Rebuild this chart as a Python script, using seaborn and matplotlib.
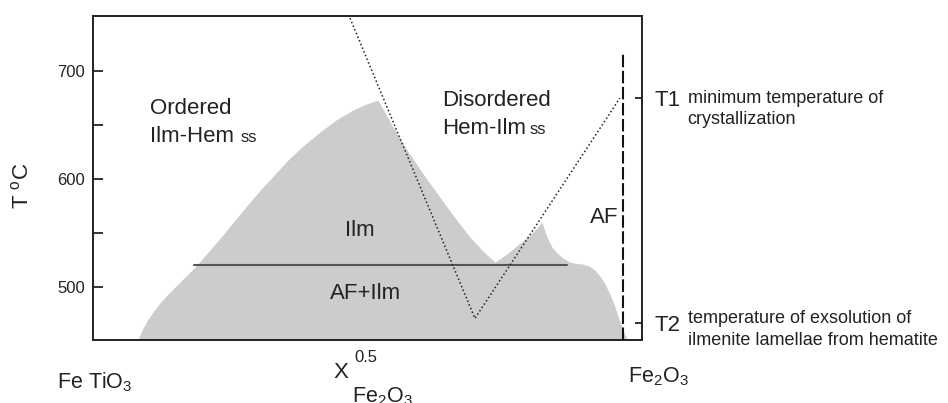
import numpy as np
import pandas as pd
import matplotlib.pyplot as plt
import seaborn as sns

# phase diagram data (x = mole fraction Fe2O3, T in deg C)
# upper edge of the grey (ordered / two-phase) field, left to right
fill_x = [0.0564, 0.0642, 0.0739, 0.0856, 0.0992, 0.1148, 0.1323, 0.1498, 0.1693,
          0.1946, 0.2198, 0.2471, 0.2743, 0.2996, 0.3249, 0.3502, 0.3774, 0.4105,
          0.4416, 0.4747, 0.5000, 0.5233,
          0.5506, 0.5798, 0.6128, 0.6479, 0.6751, 0.7023, 0.7276, 0.7510,
          0.7763, 0.7996, 0.8191, 0.8327, 0.8424, 0.8463, 0.8521, 0.8619, 0.8716,
          0.8833, 0.8969, 0.9105, 0.9222, 0.9339, 0.9455, 0.9553, 0.9650, 0.9747,
          0.9825, 0.9903, 0.9981, 1.0039, 1.0097]
fill_t = [450.9, 460.2, 468.5, 476.9, 485.2, 493.5, 501.9, 510.2, 519.4,
          533.3, 547.2, 563.0, 578.7, 592.6, 605.6, 618.5, 630.6, 643.5,
          654.6, 663.9, 669.4, 673.1,
          650.0, 626.9, 603.7, 580.6, 563.0, 546.3, 533.3, 523.1,
          531.5, 540.7, 548.1, 554.6, 560.2, 554.6, 546.3, 537.0, 531.5,
          526.9, 523.1, 521.8, 521.3, 519.4, 515.7, 510.2, 502.8, 493.5,
          484.3, 473.1, 463.0, 455.6, 450.9]

# cooling path (dotted V)
path_x = [0.469, 0.712, 0.994]
path_t = [749, 471, 675]

# AF + Ilm boundary (horizontal line)
af_x = [0.165, 0.891]
af_t = [520, 520]

# AF boundary (dashed vertical line at pure Fe2O3)
hem_x = [1.0, 1.0]
hem_t = [451, 718]

T1 = 675
T2 = 467
t_labels = ['T1', 'T2']

sns.set_style('ticks')
plt.rcParams['font.family'] = ['Liberation Sans', 'DejaVu Sans']
plt.rcParams['mathtext.fontset'] = 'custom'
plt.rcParams['mathtext.rm'] = 'Liberation Sans'
plt.rcParams['mathtext.it'] = 'Liberation Sans:italic'

fig, ax = plt.subplots(figsize=(9.48, 4.03), dpi=100)
fig.subplots_adjust(left=0.0981, right=0.6772, bottom=0.1563, top=0.9603)

ax.fill_between(fill_x, fill_t, 451, color='#cccccc', lw=0, zorder=1)
sns.lineplot(x=af_x, y=af_t, ax=ax, color='#555555', lw=1.5, estimator=None, sort=False, zorder=2)
sns.lineplot(x=path_x, y=path_t, ax=ax, color='#222222', lw=1.1, ls=(0, (1, 1.6)),
             estimator=None, sort=False, zorder=3)
sns.lineplot(x=hem_x, y=hem_t, ax=ax, color='#111111', lw=1.5, ls=(0, (6, 1.7)),
             estimator=None, sort=False, zorder=3)

ax.set_xlim(-0.031, 1.037)
ax.set_ylim(451, 751)
ax.set_xticks([0.5], labels=['0.5'])
ax.set_yticks([500, 600, 700], labels=['500', '600', '700'])
ax.set_yticks([550, 650], minor=True)
ax.tick_params(axis='both', which='both', direction='in', length=7, width=1.3,
               labelsize=12, colors='#222222', pad=6)
ax.tick_params(axis='x', length=6, pad=7)
for s in ax.spines.values():
    s.set_linewidth(1.4)
    s.set_color('#222222')
ax.set_xlabel('')
ax.set_ylabel('')

# T1 / T2 marks on the right spine
tw = ax.twinx()
tw.set_ylim(451, 751)
tw.set_yticks([T1, T2], labels=t_labels)
tw.tick_params(axis='y', direction='in', length=5, width=1.3, labelsize=16, pad=9,
               colors='#222222')
for s in tw.spines.values():
    s.set_visible(False)

big = 16
kw = dict(color='#222222', clip_on=False)
ax.text(0.080, 665.7, 'Ordered', fontsize=big, va='center', ha='left', **kw)
ax.text(0.080, 639.8, 'Ilm-Hem', fontsize=big, va='center', ha='left', **kw)
ax.text(0.257, 638.5, 'ss', fontsize=12, va='center', ha='left', **kw)
ax.text(0.648, 673.1, 'Disordered', fontsize=big, va='center', ha='left', **kw)
ax.text(0.648, 647.2, 'Hem-Ilm', fontsize=big, va='center', ha='left', **kw)
ax.text(0.819, 645.9, 'ss', fontsize=12, va='center', ha='left', **kw)
ax.text(0.488, 552.8, 'Ilm', fontsize=big, va='center', ha='center', **kw)
ax.text(0.500, 494.4, 'AF+Ilm', fontsize=big, va='center', ha='center', **kw)
ax.text(0.992, 564.8, 'AF', fontsize=big, va='center', ha='right', **kw)

ax.text(1.126, 675, 'minimum temperature of', fontsize=13, va='center', ha='left', **kw)
ax.text(1.126, 655.6, 'crystallization', fontsize=13, va='center', ha='left', **kw)
ax.text(1.126, 471.3, 'temperature of exsolution of', fontsize=13, va='center', ha='left', **kw)
ax.text(1.126, 450.9, 'ilmenite lamellae from hematite', fontsize=13, va='center', ha='left', **kw)

ax.text(-0.101, 412, r'Fe TiO$_3$', fontsize=15.5, va='center', ha='left', **kw)
ax.text(1.010, 416.7, r'Fe$_2$O$_3$', fontsize=15.5, va='center', ha='left', **kw)
ax.text(0.436, 421.3, 'X', fontsize=big, va='center', ha='left', **kw)
ax.text(0.473, 398.5, r'Fe$_2$O$_3$', fontsize=15.5, va='center', ha='left', **kw)
ax.text(-0.169, 593.5, r'T $^{\mathrm{o}}$C', fontsize=big, va='center', ha='center',
        rotation=90, **kw)

fig.savefig('out.png', dpi=100)
